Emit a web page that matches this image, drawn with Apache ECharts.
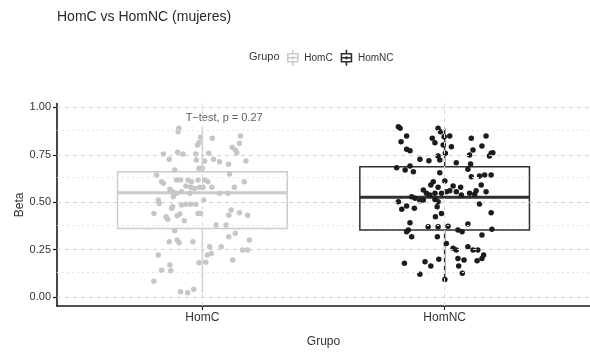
<!DOCTYPE html>
<html>
<head>
<meta charset="utf-8">
<script src="https://cdn.jsdelivr.net/npm/echarts@6/dist/echarts.min.js"></script>
<style>
  html, body { margin: 0; padding: 0; background: #fff; }
  #chart { width: 590px; height: 354px; }
</style>
</head>
<body>
<div id="chart"></div>
<script>
// Groups on the x axis
const categories = ['HomC', 'HomNC'];

// Beta values per group, with the horizontal jitter each point was drawn with
const homcBeta = [
  0.890, 0.872, 0.842, 0.814, 0.802, 0.837, 0.849, 0.811, 0.790, 0.775,
  0.761, 0.754, 0.726, 0.763, 0.754, 0.754, 0.723, 0.758, 0.717, 0.726,
  0.714, 0.700, 0.717, 0.679, 0.679, 0.670, 0.649, 0.608, 0.643, 0.608,
  0.600, 0.617, 0.617, 0.617, 0.608, 0.617, 0.617, 0.608, 0.585, 0.579,
  0.579, 0.579, 0.568, 0.555, 0.547, 0.555, 0.547, 0.573, 0.579, 0.547,
  0.547, 0.579, 0.529, 0.512, 0.494, 0.476, 0.468, 0.485, 0.489, 0.489,
  0.489, 0.512, 0.441, 0.424, 0.410, 0.429, 0.438, 0.402, 0.441, 0.441,
  0.459, 0.445, 0.432, 0.432, 0.380, 0.380, 0.350, 0.301, 0.292, 0.286,
  0.292, 0.265, 0.230, 0.265, 0.318, 0.336, 0.301, 0.248, 0.248, 0.222,
  0.142, 0.169, 0.139, 0.084, 0.181, 0.183, 0.195, 0.222, 0.028, 0.023,
  0.041
];
const homcJitter = [
  -0.097, -0.100, -0.007, -0.014, -0.020, 0.041, 0.157, 0.153, 0.123, 0.136,
  0.142, -0.161, -0.137, -0.102, -0.080, -0.027, -0.025, 0.026, 0.009, 0.046,
  0.071, 0.108, 0.180, -0.014, 0.000, -0.114, 0.112, 0.173, -0.189, -0.168,
  -0.161, -0.107, -0.090, -0.059, -0.045, -0.018, 0.009, 0.023, -0.068, -0.048,
  -0.011, 0.039, -0.134, -0.123, -0.107, -0.086, -0.052, -0.032, 0.003, 0.071,
  0.105, 0.132, -0.120, -0.182, -0.178, -0.123, -0.127, -0.086, -0.068, -0.048,
  -0.027, 0.005, -0.200, -0.150, -0.143, -0.104, -0.093, -0.075, -0.018, -0.007,
  0.119, 0.153, 0.187, 0.109, 0.098, 0.057, -0.114, -0.104, -0.137, -0.096,
  -0.039, 0.030, 0.037, 0.078, 0.109, 0.136, 0.194, 0.166, 0.187, -0.182,
  -0.168, -0.134, -0.130, -0.200, -0.014, 0.014, 0.125, 0.020, -0.090, -0.061,
  -0.036
];

const homncBeta = [
  0.898, 0.890, 0.849, 0.819, 0.779, 0.772, 0.890, 0.872, 0.837, 0.814,
  0.845, 0.849, 0.802, 0.793, 0.837, 0.849, 0.796, 0.775, 0.749, 0.758,
  0.761, 0.744, 0.758, 0.723, 0.744, 0.726, 0.719, 0.708, 0.701, 0.682,
  0.670, 0.661, 0.691, 0.674, 0.656, 0.635, 0.638, 0.643, 0.643, 0.608,
  0.612, 0.591, 0.585, 0.579, 0.579, 0.591, 0.561, 0.555, 0.564, 0.547,
  0.538, 0.547, 0.547, 0.555, 0.561, 0.555, 0.538, 0.547, 0.542, 0.529,
  0.521, 0.503, 0.463, 0.480, 0.468, 0.508, 0.512, 0.515, 0.503, 0.476,
  0.491, 0.445, 0.441, 0.424, 0.392, 0.353, 0.318, 0.344, 0.371, 0.371,
  0.374, 0.318, 0.353, 0.344, 0.385, 0.357, 0.327, 0.283, 0.257, 0.248,
  0.265, 0.248, 0.248, 0.204, 0.195, 0.222, 0.204, 0.191, 0.178, 0.186,
  0.164, 0.199, 0.121, 0.164, 0.125, 0.093
];
const homncJitter = [
  -0.191, -0.184, -0.157, -0.180, -0.157, -0.143, -0.027, -0.017, -0.051, -0.040,
  -0.002, 0.021, -0.006, 0.028, 0.110, 0.171, 0.154, 0.117, 0.103, 0.192,
  0.199, 0.185, 0.003, -0.020, -0.027, -0.102, -0.065, 0.048, 0.107, -0.198,
  -0.163, -0.129, -0.143, 0.096, -0.020, 0.110, 0.144, 0.165, 0.192, -0.047,
  0.001, -0.057, 0.035, 0.066, -0.027, 0.151, 0.130, 0.171, -0.088, -0.075,
  -0.061, -0.040, -0.013, 0.007, 0.021, 0.048, 0.069, 0.103, 0.124, -0.136,
  -0.122, -0.191, -0.177, -0.157, -0.125, -0.102, -0.088, -0.040, -0.027, -0.031,
  0.144, 0.192, -0.013, -0.038, -0.143, -0.150, -0.136, -0.157, -0.068, -0.027,
  0.014, -0.030, 0.055, 0.072, 0.096, 0.195, 0.154, 0.007, 0.035, 0.048,
  0.096, 0.117, 0.137, 0.055, 0.080, 0.161, 0.154, 0.134, -0.166, -0.081,
  -0.057, -0.024, -0.102, 0.058, 0.073, 0.001
];

// Box summaries: [lower whisker, Q1, median, Q3, upper whisker]
const homcBox = [0.023, 0.362, 0.550, 0.661, 0.890];
const homncBox = [0.093, 0.353, 0.526, 0.687, 0.891];

// Y axis ticks and labels
const yTicks = [0, 0.25, 0.5, 0.75, 1];
const yTickLabels = ['0.00', '0.25', '0.50', '0.75', '1.00'];
const yMinorTicks = [0.125, 0.375, 0.625, 0.875];

// Test annotation
const testText = 'T\u2212test, p = 0.27';
const testAnchor = [1.09, 0.944];

const FONT = "'Liberation Sans', Arial, Helvetica, sans-serif";
const colors = { HomC: '#c6c6c6', HomNC: '#1c1c1c' };
const boxLine = { HomC: '#cbcbcb', HomNC: '#303030' };

function points(beta, jitter, pos) {
  return beta.map((v, i) => [pos + jitter[i], v]);
}

function boxRenderer(stroke) {
  return function (params, api) {
    const x = api.value(0);
    const lo = api.coord([x, api.value(1)]);
    const q1 = api.coord([x, api.value(2)]);
    const md = api.coord([x, api.value(3)]);
    const q3 = api.coord([x, api.value(4)]);
    const hi = api.coord([x, api.value(5)]);
    const hw = api.size([0.7, 0])[0] / 2;
    return {
      type: 'group',
      children: [
        { type: 'line', shape: { x1: hi[0], y1: hi[1], x2: q3[0], y2: q3[1] },
          style: { stroke: stroke, lineWidth: 1.5 } },
        { type: 'line', shape: { x1: q1[0], y1: q1[1], x2: lo[0], y2: lo[1] },
          style: { stroke: stroke, lineWidth: 1.5 } },
        { type: 'rect', shape: { x: q3[0] - hw, y: q3[1], width: 2 * hw, height: q1[1] - q3[1] },
          style: { fill: '#fff', stroke: stroke, lineWidth: 1.5 } },
        { type: 'line', shape: { x1: md[0] - hw, y1: md[1], x2: md[0] + hw, y2: md[1] },
          style: { stroke: stroke, lineWidth: 3 } }
      ]
    };
  };
}

// Legend key: box with whiskers, a median bar and a point in the middle
const glyph = 'path://M6,0 L6,4 M1,4 L11,4 L11,12 L1,12 Z M1,8 L11,8 M6,12 L6,16 ' +
  'M6,7.2 A0.8,0.8 0 1 1 6,8.8 A0.8,0.8 0 1 1 6,7.2';

const chart = echarts.init(document.getElementById('chart'), null, { renderer: 'canvas' });

const majorLines = yTicks.map(v => ({ yAxis: v, lineStyle: { color: '#d0d0d0', type: [4, 4], width: 1 } }));
const minorLines = yMinorTicks.map(v => ({ yAxis: v, lineStyle: { color: '#e6e6e6', type: [2, 3], width: 1 } }));
const vertLines = categories.map((c, i) => ({ xAxis: i + 1, lineStyle: { color: '#d8d8d8', type: [4, 4], width: 1 } }));

chart.setOption({
  animation: false,
  backgroundColor: '#fff',
  textStyle: { fontFamily: FONT },
  title: [
    { text: 'HomC vs HomNC (mujeres)', left: 57, top: 10, padding: 0,
      textStyle: { fontFamily: FONT, fontSize: 14, fontWeight: 'normal', color: '#2a2a2a' } },
    { text: 'Grupo', left: 249, top: 51, padding: 0,
      textStyle: { fontFamily: FONT, fontSize: 11, fontWeight: 'normal', color: '#333' } }
  ],
  legend: {
    left: 287, top: 49, padding: 0,
    itemWidth: 13, itemHeight: 16, itemGap: 8,
    selectedMode: false,
    textStyle: { fontFamily: FONT, fontSize: 10, color: '#333' },
    data: [
      { name: 'HomC', icon: glyph, itemStyle: { color: 'rgba(0,0,0,0)', borderColor: boxLine.HomC, borderWidth: 1.6 } },
      { name: 'HomNC', icon: glyph, itemStyle: { color: 'rgba(0,0,0,0)', borderColor: boxLine.HomNC, borderWidth: 1.6 } }
    ]
  },
  grid: { left: 57, right: -2, top: 103.6, bottom: 48, containLabel: false },
  xAxis: {
    type: 'value', min: 0.4, max: 2.6,
    name: 'Grupo', nameLocation: 'middle', nameGap: 30,
    nameTextStyle: { fontFamily: FONT, fontSize: 12, color: '#333' },
    axisLine: { show: true, onZero: false, lineStyle: { color: '#1a1a1a', width: 1.6 } },
    axisTick: { show: true, length: 4, customValues: [1, 2], lineStyle: { color: '#1a1a1a', width: 1.2 } },
    axisLabel: { customValues: [1, 2], margin: 6, fontSize: 12, color: '#333', fontFamily: FONT,
      formatter: v => categories[Math.round(v) - 1] || '' },
    splitLine: { show: false }
  },
  yAxis: {
    type: 'value', min: -0.047, max: 1.02,
    name: 'Beta', nameLocation: 'middle', nameGap: 31, nameRotate: 90,
    nameMoveOverlap: false,
    nameTextStyle: { fontFamily: FONT, fontSize: 12, color: '#333' },
    axisLine: { show: true, onZero: false, lineStyle: { color: '#1a1a1a', width: 1.6 } },
    axisTick: { show: true, length: 4, customValues: yTicks, lineStyle: { color: '#1a1a1a', width: 1.2 } },
    axisLabel: { customValues: yTicks, margin: 6, fontSize: 11, color: '#333', fontFamily: FONT,
      formatter: v => yTickLabels[yTicks.indexOf(v)] ?? v.toFixed(2) },
    splitLine: { show: false }
  },
  series: [
    {
      name: 'grid', type: 'scatter', data: [], z: 0, silent: true,
      markLine: { silent: true, symbol: 'none', label: { show: false },
        data: minorLines.concat(majorLines, vertLines) }
    },
    {
      name: 'HomC', type: 'custom', z: 2, renderItem: boxRenderer(boxLine.HomC),
      itemStyle: { color: boxLine.HomC },
      encode: { x: 0, y: [1, 2, 3, 4, 5] },
      data: [[1].concat(homcBox)]
    },
    {
      name: 'HomNC', type: 'custom', z: 2, renderItem: boxRenderer(boxLine.HomNC),
      itemStyle: { color: boxLine.HomNC },
      encode: { x: 0, y: [1, 2, 3, 4, 5] },
      data: [[2].concat(homncBox)]
    },
    {
      name: 'HomC pts', type: 'scatter', z: 3, symbolSize: 5.5,
      itemStyle: { color: colors.HomC, opacity: 1 },
      data: points(homcBeta, homcJitter, 1)
    },
    {
      name: 'HomNC pts', type: 'scatter', z: 3, symbolSize: 5.5,
      itemStyle: { color: colors.HomNC, opacity: 1 },
      data: points(homncBeta, homncJitter, 2)
    },
    {
      name: 'test', type: 'scatter', z: 4, symbolSize: 0, silent: true,
      data: [testAnchor],
      label: { show: true, position: 'inside', formatter: testText,
        fontFamily: FONT, fontSize: 11, color: '#333' }
    }
  ]
});
</script>
</body>
</html>
